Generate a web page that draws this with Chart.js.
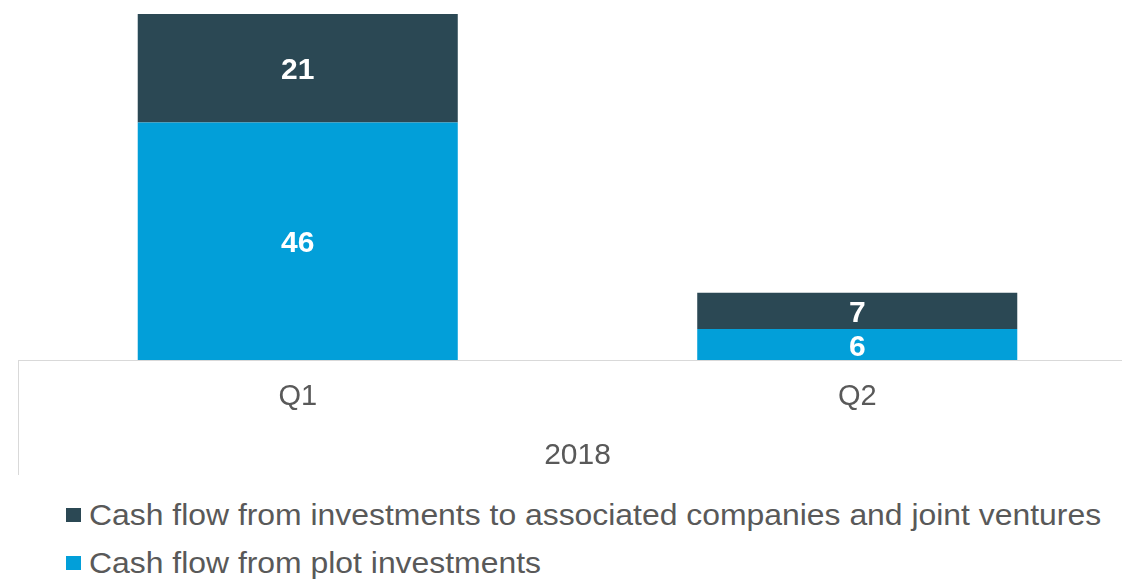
<!DOCTYPE html>
<html>
<head>
<meta charset="utf-8">
<script src="https://cdn.jsdelivr.net/npm/chart.js@4/dist/chart.umd.min.js"></script>
<style>
  html, body { margin: 0; padding: 0; background: #ffffff; overflow: hidden; }
  #wrap { position: relative; width: 1140px; height: 579px; }
  #chart { position: absolute; left: 0; top: 0; }
  .legend { position: absolute; left: 66px; font-family: "Liberation Sans", Arial, sans-serif; font-size: 30px; color: #595959; }
  .legend .row { display: flex; align-items: center; height: 48px; white-space: nowrap; }
  .legend .box { width: 15px; height: 14px; margin-right: 8px; flex: none; }
  .legend .txt { display: inline-block; transform: scaleX(1.063); transform-origin: left center; }
</style>
</head>
<body>
<div id="wrap">
  <canvas id="chart" width="1140" height="480"></canvas>
  <div class="legend" id="legend" style="top:491px"></div>
</div>
<script>
// Quarterly cash flow, 2018
const quarters = ['Q1', 'Q2'];
const yearLabel = '2018';
const plotInvestments = [46, 6];
const associatedInvestments = [21, 7];
const seriesNames = [
  'Cash flow from plot investments',
  'Cash flow from investments to associated companies and joint ventures'
];
const seriesColors = ['#029fd9', '#2b4854'];

const FONT = '"Liberation Sans", Arial, sans-serif';
const GREY = '#595959';

// White value label centred in each stacked segment
const segmentLabels = {
  id: 'segmentLabels',
  afterDatasetsDraw(chart) {
    const ctx = chart.ctx;
    ctx.save();
    ctx.fillStyle = '#ffffff';
    ctx.font = 'bold 30px ' + FONT;
    ctx.textAlign = 'center';
    ctx.textBaseline = 'middle';
    chart.data.datasets.forEach((ds, i) => {
      chart.getDatasetMeta(i).data.forEach((bar, j) => {
        const y = (bar.y + bar.base) / 2 + 3;
        ctx.fillText(String(ds.data[j]), bar.x, y);
      });
    });
    ctx.restore();
  }
};

// Left divider line under the category axis
const groupDivider = {
  id: 'groupDivider',
  afterDraw(chart) {
    const { ctx, chartArea } = chart;
    ctx.save();
    ctx.strokeStyle = '#d9d9d9';
    ctx.lineWidth = 1;
    ctx.beginPath();
    ctx.moveTo(chartArea.left + 0.5, chartArea.bottom);
    ctx.lineTo(chartArea.left + 0.5, chartArea.bottom + 115);
    ctx.stroke();
    ctx.restore();
  }
};

const chart = new Chart(document.getElementById('chart'), {
  type: 'bar',
  data: {
    labels: quarters,
    datasets: [
      { label: seriesNames[0], data: plotInvestments, backgroundColor: seriesColors[0] },
      { label: seriesNames[1], data: associatedInvestments, backgroundColor: seriesColors[1] }
    ]
  },
  options: {
    responsive: false,
    animation: false,
    devicePixelRatio: 1,
    datasets: { bar: { categoryPercentage: 0.572, barPercentage: 1 } },
    layout: { padding: { left: 18, right: 3, top: 14, bottom: 0 } },
    plugins: { legend: { display: false }, tooltip: { enabled: false } },
    scales: {
      x: {
        stacked: true,
        grid: { display: true, drawOnChartArea: false, drawTicks: false },
        border: { display: true, color: '#d9d9d9', width: 1 },
        ticks: { color: GREY, font: { family: FONT, size: 29 }, padding: 20 },
        title: { display: true, text: yearLabel, color: GREY, font: { family: FONT, size: 30 }, padding: { top: 0, bottom: 6 } },
        afterFit(scale) { scale.height = 120; }
      },
      y: {
        stacked: true,
        display: false,
        min: 0,
        max: 67
      }
    }
  },
  plugins: [segmentLabels, groupDivider]
});

// Legend: top series listed first
const legend = document.getElementById('legend');
[1, 0].forEach(i => {
  const row = document.createElement('div');
  row.className = 'row';
  const box = document.createElement('div');
  box.className = 'box';
  box.style.background = seriesColors[i];
  const txt = document.createElement('span');
  txt.className = 'txt';
  txt.textContent = seriesNames[i];
  row.appendChild(box);
  row.appendChild(txt);
  legend.appendChild(row);
});
</script>
</body>
</html>
